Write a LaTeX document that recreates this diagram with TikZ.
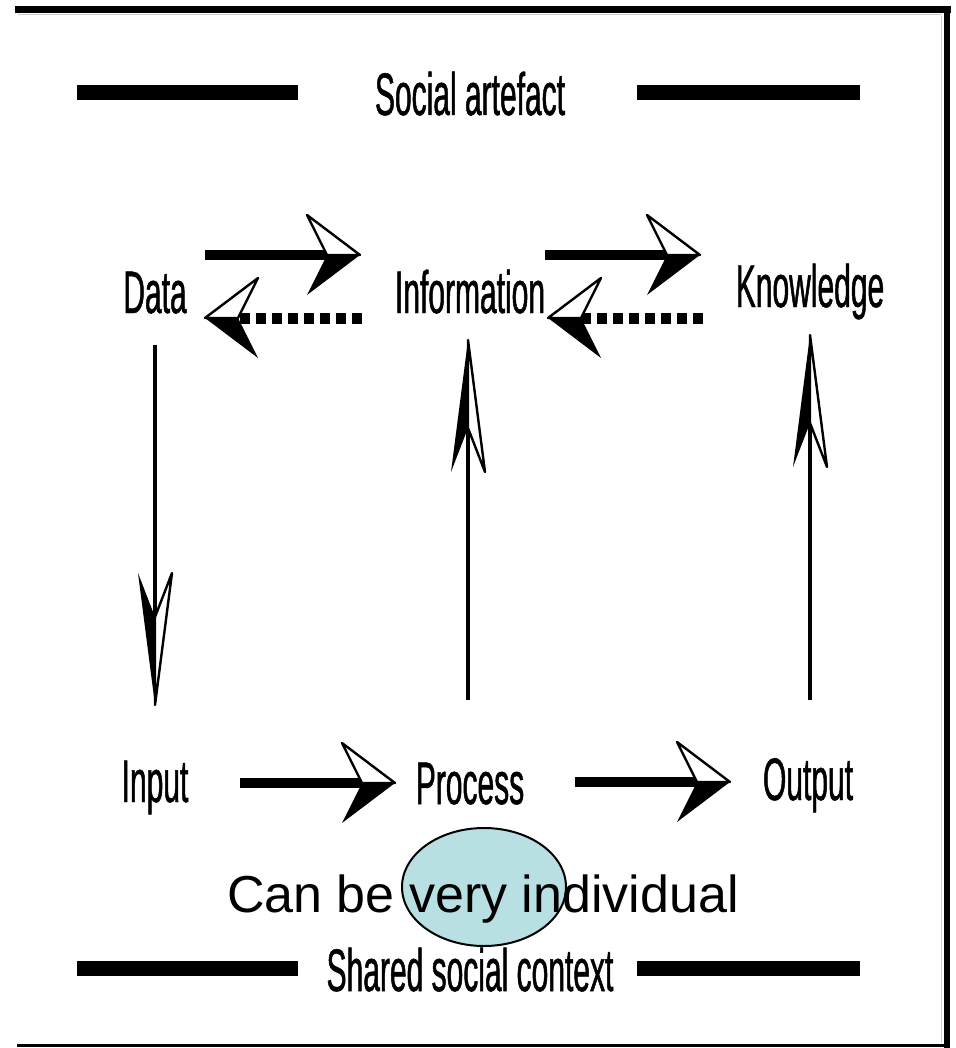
\documentclass[tikz,border=0pt]{standalone}
\usepackage{fontspec}
\setmainfont{Liberation Sans}
\newfontfamily\condfont[FakeStretch=0.5,FakeBold=0.8]{Liberation Sans}
\usetikzlibrary{arrows.meta,shapes.geometric}

% Half-filled arrow head: one half solid, the other half outlined.
% #1 name, #2 length, #3 half width, #4 notch depth from tip, #5 sign of the solid half
\newcommand\declarehalfhead[5]{%
  \pgfdeclarearrow{
    name = #1,
    setup code = {%
      \pgfarrowssettipend{0pt}%
      \pgfarrowssetlineend{-#4}%
      \pgfarrowssetbackend{-#2}%
    },
    drawing code = {%
      \pgfsetdash{}{0pt}%
      \pgfsetcolor{black}%
      \pgfpathmoveto{\pgfqpoint{0pt}{0pt}}%
      \pgfpathlineto{\pgfqpoint{-#2}{#5#3}}%
      \pgfpathlineto{\pgfqpoint{-#4}{0pt}}%
      \pgfpathclose
      \pgfusepathqfill
      \pgfsetfillcolor{white}%
      \pgfsetlinewidth{2.4pt}%
      \pgfsetroundjoin
      \pgfpathmoveto{\pgfqpoint{0pt}{0pt}}%
      \pgfpathlineto{\pgfqpoint{-#2}{-#5#3}}%
      \pgfpathlineto{\pgfqpoint{-#4}{0pt}}%
      \pgfpathclose
      \pgfusepathqfillstroke
    }
  }%
}
\declarehalfhead{HalfHA}{53pt}{40pt}{33pt}{-}
\declarehalfhead{HalfHB}{53pt}{40pt}{33pt}{+}
\declarehalfhead{HalfVA}{132pt}{17pt}{88pt}{-}
\declarehalfhead{HalfVB}{132pt}{17pt}{88pt}{+}

\definecolor{blobfill}{HTML}{B8DFE2}

\tikzset{
  lbl/.style={font=\condfont\fontsize{60pt}{64pt}\selectfont, anchor=base, inner sep=0pt},
  bar/.style={line width=15pt},
  fwdarrow/.style={line width=10.5pt, -HalfHA},
  backarrow/.style={line width=11pt, dash pattern=on 10pt off 6pt, -HalfHB},
  vdown/.style={line width=4.5pt, -HalfVA},
  vup/.style={line width=4.5pt, -HalfVB},
}

\begin{document}
\begin{tikzpicture}[x=1pt,y=-1pt]
\useasboundingbox (0,0) rectangle (955,1048);
\fill[white] (0,0) rectangle (955,1048);

% frame
\draw[line width=7pt] (15,9.5) -- (951,9.5);
\draw[gray!40, line width=1pt] (18,15) -- (942,15);
\draw[line width=6pt] (947,6) -- (947,1048);
\draw[gray!40, line width=1pt] (941,16) -- (941,1042);
\draw[line width=3pt] (17,1045.5) -- (950,1045.5);

% labels
\node[lbl] (soc)    at (470,115) {Social artefact};
\node[lbl] (data)   at (155,313) {Data};
\node[lbl] (info)   at (470,313) {Information};
\node[lbl] (know)   at (810,307) {Knowledge};
\node[lbl] (input)  at (155,802) {Input};
\node[lbl] (proc)   at (470,804) {Process};
\node[lbl] (out)    at (808,800) {Output};
\node[lbl] (shared) at (470,991) {Shared social context};

% heavy bars beside the two headings
\draw[bar] (77,93) -- (298,93);
\draw[bar] (637,93) -- (860,93);
\draw[bar] (77,968) -- (298,968);
\draw[bar] (637,968) -- (860,968);

% top row
\draw[fwdarrow]  ([shift={(50,-58)}]data.base) -- ([shift={(-110,-58)}]info.base);
\draw[backarrow] ([shift={(-108,5)}]info.base) -- ([shift={(50,5)}]data.base);
\draw[fwdarrow]  ([shift={(75,-58)}]info.base) -- ([shift={(-110,-52)}]know.base);
\draw[backarrow] ([shift={(-107,11)}]know.base) -- ([shift={(78,5)}]info.base);

% columns
\draw[vdown] ([shift={(0,32)}]data.base) -- ([shift={(0,-97)}]input.base);
\draw[vup]   ([shift={(-2,-104)}]proc.base) -- ([shift={(-2,27)}]info.base);
\draw[vup]   ([shift={(2,-100)}]out.base) -- ([shift={(0,28)}]know.base);

% bottom row
\draw[fwdarrow] ([shift={(85,-19)}]input.base) -- ([shift={(-75,-21)}]proc.base);
\draw[fwdarrow] ([shift={(105,-22)}]proc.base) -- ([shift={(-78,-18)}]out.base);

% annotation
\node[draw, ellipse, fill=blobfill, line width=2pt, minimum width=164pt, minimum height=118pt, inner sep=0pt] (blob) at (484,887) {};
\node[anchor=base, inner sep=0pt, font=\fontsize{52pt}{60pt}\selectfont] (note) at (483,912) {Can be very individual};
\end{tikzpicture}
\end{document}
